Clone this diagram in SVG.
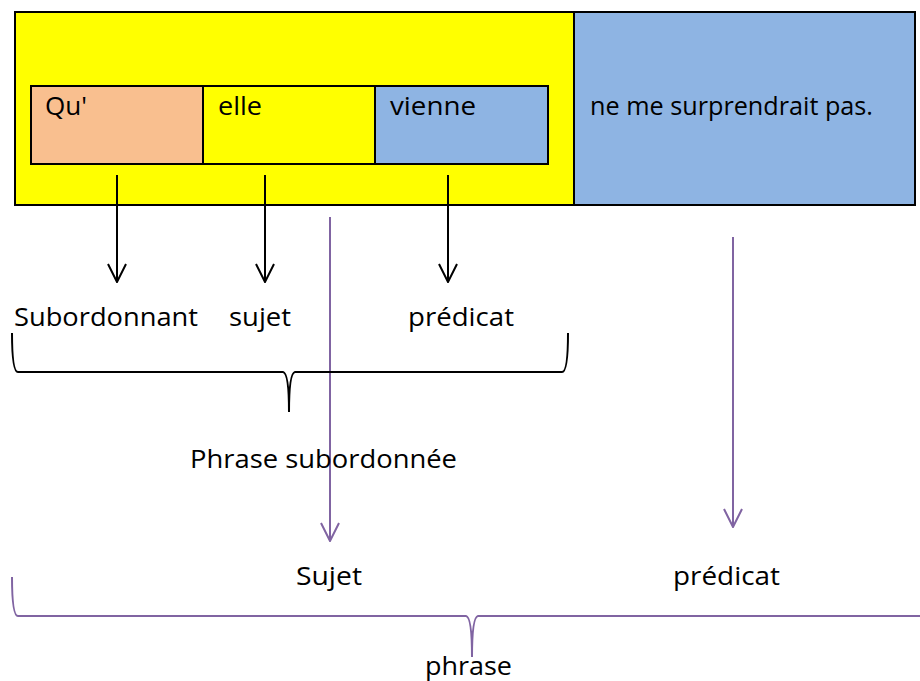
<svg xmlns="http://www.w3.org/2000/svg" width="920" height="681" viewBox="0 0 920 681">
<defs>
<style>
text{font-family:"Open Sans","Liberation Sans",sans-serif;font-size:25px;fill:#000}
.box{stroke:#000;stroke-width:2}
.blk{stroke:#000;stroke-width:2;fill:none}
.pur{stroke:#8064A2;stroke-width:2;fill:none}
</style>
<marker id="ab" viewBox="0 0 20 20" refX="19" refY="10" markerWidth="20" markerHeight="20" markerUnits="userSpaceOnUse" orient="auto">
<path d="M1,1 L19,10 L1,19" fill="none" stroke="#000" stroke-width="2"/>
</marker>
<marker id="ap" viewBox="0 0 20 20" refX="19" refY="10" markerWidth="20" markerHeight="20" markerUnits="userSpaceOnUse" orient="auto">
<path d="M1,1 L19,10 L1,19" fill="none" stroke="#8064A2" stroke-width="2"/>
</marker>
</defs>
<rect width="920" height="681" fill="#fff"/>
<g id="outer-yellow"><rect class="box" x="15" y="12" width="559" height="193" fill="#FFFF00"/></g>
<g id="outer-blue"><rect class="box" x="574" y="12" width="341" height="193" fill="#8EB4E3"/>
<text x="590" y="115" textLength="283" lengthAdjust="spacingAndGlyphs">ne me surprendrait pas.</text></g>
<g id="box-qu"><rect class="box" x="31" y="86" width="172" height="78" fill="#F9BF8F"/>
<text x="45" y="115" textLength="42" lengthAdjust="spacingAndGlyphs">Qu'</text></g>
<g id="box-elle"><rect class="box" x="203" y="86" width="172" height="78" fill="#FFFF00"/>
<text x="218" y="115" textLength="44" lengthAdjust="spacingAndGlyphs">elle</text></g>
<g id="box-vienne"><rect class="box" x="375" y="86" width="173" height="78" fill="#8EB4E3"/>
<text x="390" y="115" textLength="86" lengthAdjust="spacingAndGlyphs">vienne</text></g>
<g id="connectors">
<line class="blk" x1="117" y1="175" x2="117" y2="282" marker-end="url(#ab)"/>
<line class="blk" x1="265" y1="175" x2="265" y2="282" marker-end="url(#ab)"/>
<line class="blk" x1="448" y1="175" x2="448" y2="282" marker-end="url(#ab)"/>
<line class="pur" x1="330" y1="217" x2="330" y2="541" marker-end="url(#ap)"/>
<line class="pur" x1="733" y1="237" x2="733" y2="527" marker-end="url(#ap)"/>
<path class="blk" d="M12,333 Q12,372 18,372 L283,372 Q289,373 289,412 Q289,373 295,372 L562,372 Q568,372 568,333"/>
<path class="pur" d="M12,577 Q12,616 18,616 L466,616 Q472,617 472,657 Q472,617 478,616 L922,616"/>
</g>
<g id="labels">
<text x="14" y="326" textLength="184" lengthAdjust="spacingAndGlyphs">Subordonnant</text>
<text x="229" y="326" textLength="62" lengthAdjust="spacingAndGlyphs">sujet</text>
<text x="408" y="326" textLength="106" lengthAdjust="spacingAndGlyphs">prédicat</text>
<text x="190" y="468" textLength="267" lengthAdjust="spacingAndGlyphs">Phrase subordonnée</text>
<text x="296" y="585" textLength="66" lengthAdjust="spacingAndGlyphs">Sujet</text>
<text x="673" y="585" textLength="107" lengthAdjust="spacingAndGlyphs">prédicat</text>
<text x="425" y="675" textLength="87" lengthAdjust="spacingAndGlyphs">phrase</text>
</g>
</svg>
